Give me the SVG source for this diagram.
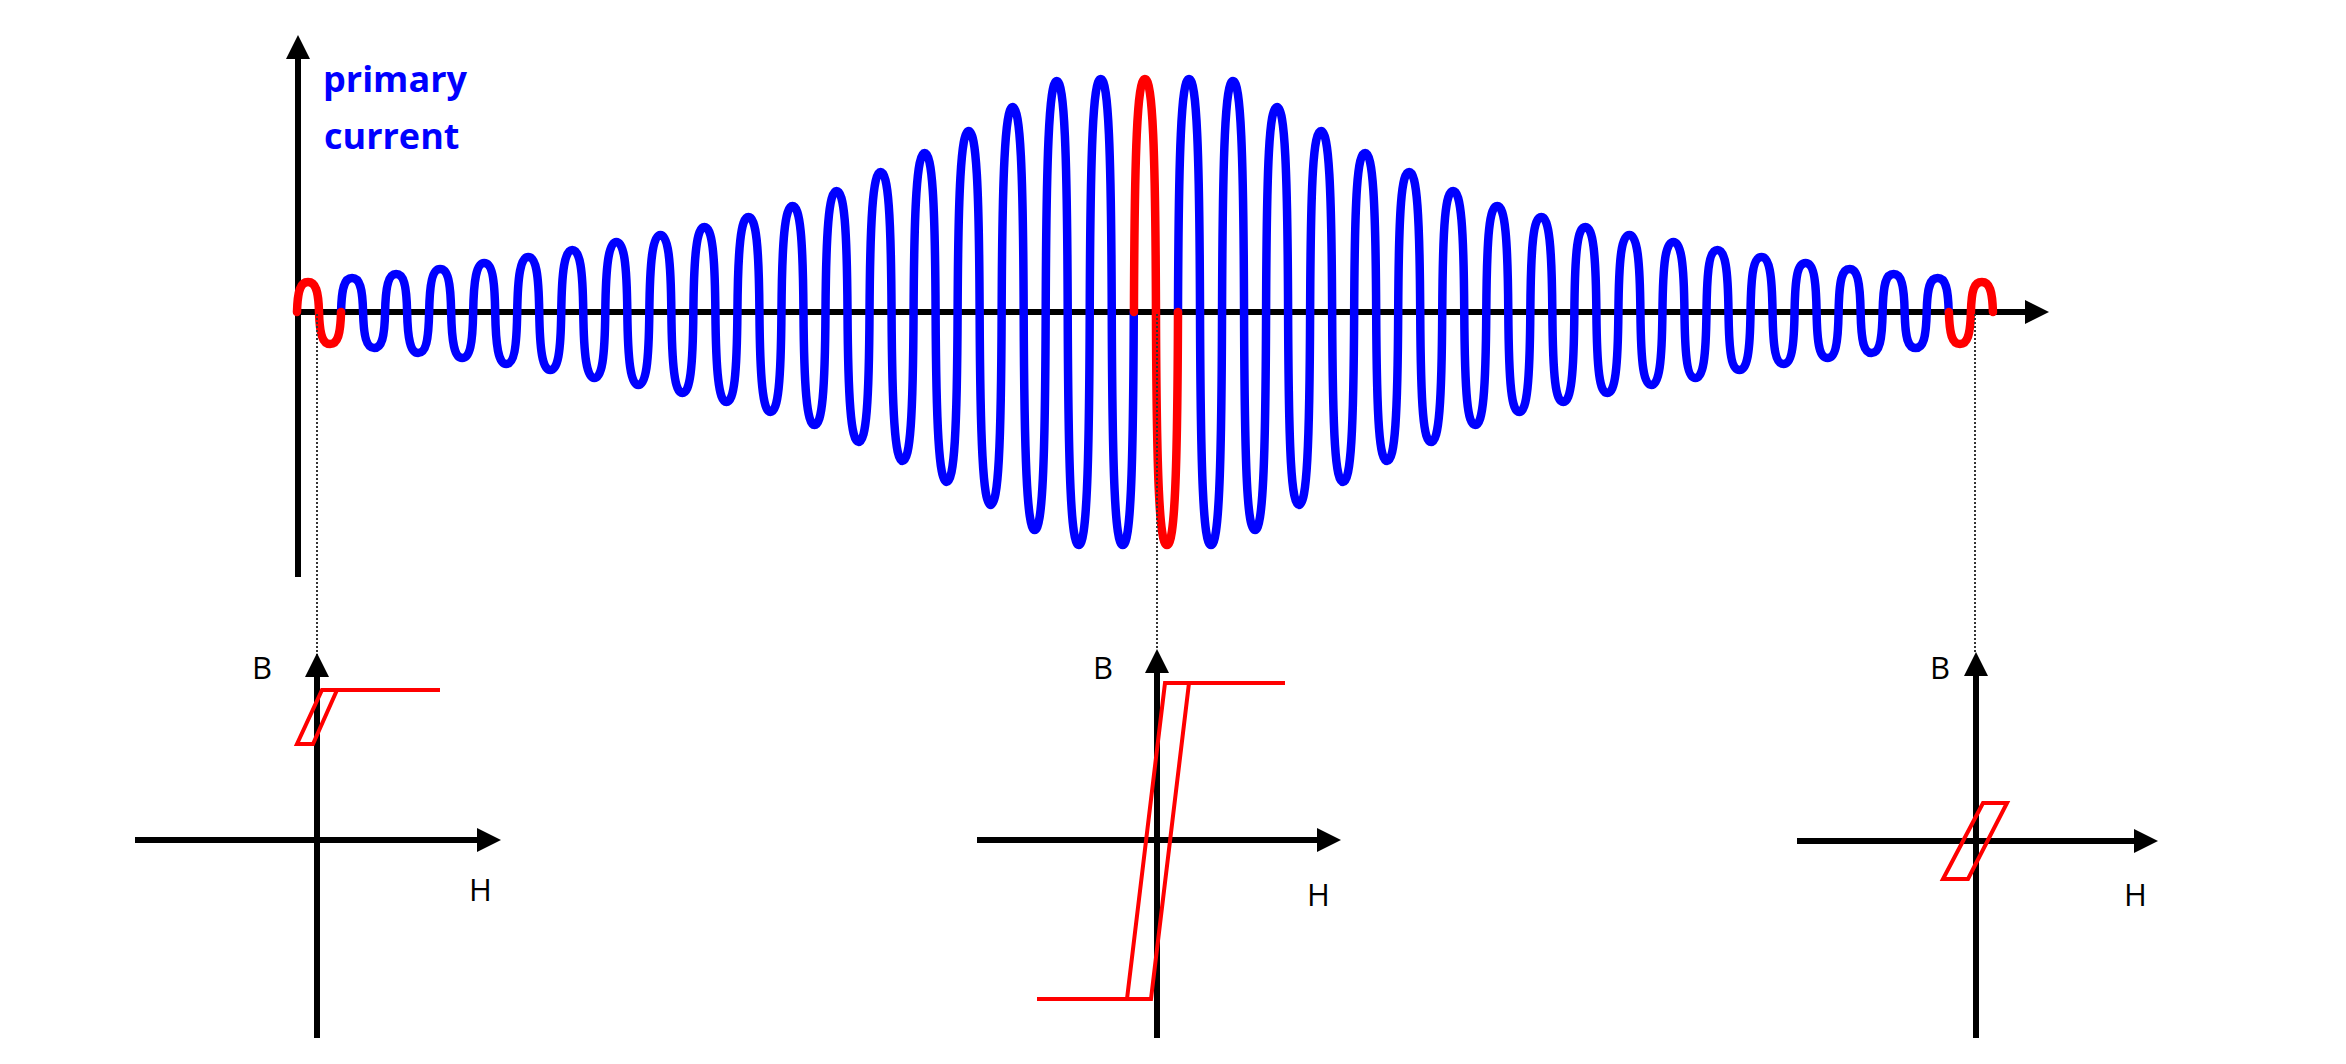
<svg xmlns="http://www.w3.org/2000/svg" width="2346" height="1064" viewBox="0 0 2346 1064">
<defs>
<style>
.axis{stroke:#000;stroke-width:6;fill:none}
.wave{fill:none;stroke-width:8.5;stroke-linecap:round;stroke-linejoin:round}
.blue{stroke:#0000FF}
.red{stroke:#FF0000}
.loop{fill:none;stroke:#FF0000;stroke-width:4;stroke-linejoin:miter}
.dot{stroke:#333;stroke-width:2;stroke-dasharray:2 2;fill:none}
.lbl{font-family:"Open Sans","Liberation Sans",sans-serif;font-size:31px;fill:#000}
.ttl{font-family:"Open Sans","Liberation Sans",sans-serif;font-size:36px;font-weight:bold;fill:#0000FF}
</style>
<marker id="arr" markerUnits="userSpaceOnUse" markerWidth="24" markerHeight="24" viewBox="0 0 24 24" refX="0" refY="12" orient="auto">
<path d="M0,0 L24,12 L0,24 Z" fill="#000"/>
</marker>
</defs>
<rect x="0" y="0" width="2346" height="1064" fill="#fff"/>

<g id="current-plot">
<line class="axis" x1="298" y1="577" x2="298" y2="59" marker-end="url(#arr)"/>
<line class="axis" x1="296" y1="312" x2="2025" y2="312" marker-end="url(#arr)"/>
<text class="ttl" x="323" y="92">primary</text>
<text class="ttl" x="324" y="149">current</text>
<path class="wave blue" d="M341.05,312 c0.55,-23.8 3.3,-34 11.01,-34 s10.46,10.2 11.01,34
s3.3,36 11.01,36 s10.46,-10.8 11.01,-36
s3.3,-38 11.01,-38 s10.46,11.4 11.01,38
s3.3,41 11.01,41 s10.46,-12.3 11.01,-41
s3.3,-43 11.01,-43 s10.46,12.9 11.01,43
s3.3,46 11.01,46 s10.46,-13.8 11.01,-46
s3.3,-49 11.01,-49 s10.46,14.7 11.01,49
s3.3,52 11.01,52 s10.46,-15.6 11.01,-52
s3.3,-55 11.01,-55 s10.46,16.5 11.01,55
s3.3,58 11.01,58 s10.46,-17.4 11.01,-58
s3.3,-62 11.01,-62 s10.46,18.6 11.01,62
s3.3,66 11.01,66 s10.46,-19.8 11.01,-66
s3.3,-70 11.01,-70 s10.46,21 11.01,70
s3.3,73 11.01,73 s10.46,-21.9 11.01,-73
s3.3,-77 11.01,-77 s10.46,23.1 11.01,77
s3.3,81 11.01,81 s10.46,-24.3 11.01,-81
s3.3,-85 11.01,-85 s10.46,25.5 11.01,85
s3.3,90 11.01,90 s10.46,-27 11.01,-90
s3.3,-95 11.01,-95 s10.46,28.5 11.01,95
s3.3,100 11.01,100 s10.46,-30 11.01,-100
s3.3,-106 11.01,-106 s10.46,31.8 11.01,106
s3.3,113 11.01,113 s10.46,-33.9 11.01,-113
s3.3,-121 11.01,-121 s10.46,36.3 11.01,121
s3.3,130 11.01,130 s10.46,-39 11.01,-130
s3.3,-140 11.01,-140 s10.46,42 11.01,140
s3.3,149 11.01,149 s10.46,-44.7 11.01,-149
s3.3,-159 11.01,-159 s10.46,47.7 11.01,159
s3.3,170 11.01,170 s10.46,-51 11.01,-170
s3.3,-181 11.01,-181 s10.46,54.3 11.01,181
s3.3,193 11.01,193 s10.46,-57.9 11.01,-193
s3.3,-205 11.01,-205 s10.46,61.5 11.01,205
s3.3,218 11.01,218 s10.46,-65.4 11.01,-218
s3.3,-231 11.01,-231 s10.46,69.3 11.01,231
s3.3,233 11.01,233 s10.46,-69.9 11.01,-233
s3.3,-233 11.01,-233 s10.46,69.9 11.01,233
s3.3,233 11.01,233 s10.46,-69.9 11.01,-233"/>
<path class="wave blue" d="M1178,312 c0.55,-163.1 3.3,-233 11.01,-233 s10.46,69.9 11.01,233
s3.3,233 11.01,233 s10.46,-69.9 11.01,-233
s3.3,-231 11.01,-231 s10.46,69.3 11.01,231
s3.3,218 11.01,218 s10.46,-65.4 11.01,-218
s3.3,-205 11.01,-205 s10.46,61.5 11.01,205
s3.3,193 11.01,193 s10.46,-57.9 11.01,-193
s3.3,-181 11.01,-181 s10.46,54.3 11.01,181
s3.3,170 11.01,170 s10.46,-51 11.01,-170
s3.3,-159 11.01,-159 s10.46,47.7 11.01,159
s3.3,149 11.01,149 s10.46,-44.7 11.01,-149
s3.3,-140 11.01,-140 s10.46,42 11.01,140
s3.3,130 11.01,130 s10.46,-39 11.01,-130
s3.3,-121 11.01,-121 s10.46,36.3 11.01,121
s3.3,113 11.01,113 s10.46,-33.9 11.01,-113
s3.3,-106 11.01,-106 s10.46,31.8 11.01,106
s3.3,100 11.01,100 s10.46,-30 11.01,-100
s3.3,-95 11.01,-95 s10.46,28.5 11.01,95
s3.3,90 11.01,90 s10.46,-27 11.01,-90
s3.3,-85 11.01,-85 s10.46,25.5 11.01,85
s3.3,81 11.01,81 s10.46,-24.3 11.01,-81
s3.3,-77 11.01,-77 s10.46,23.1 11.01,77
s3.3,73 11.01,73 s10.46,-21.9 11.01,-73
s3.3,-70 11.01,-70 s10.46,21 11.01,70
s3.3,66 11.01,66 s10.46,-19.8 11.01,-66
s3.3,-62 11.01,-62 s10.46,18.6 11.01,62
s3.3,58 11.01,58 s10.46,-17.4 11.01,-58
s3.3,-55 11.01,-55 s10.46,16.5 11.01,55
s3.3,52 11.01,52 s10.46,-15.6 11.01,-52
s3.3,-49 11.01,-49 s10.46,14.7 11.01,49
s3.3,46 11.01,46 s10.46,-13.8 11.01,-46
s3.3,-43 11.01,-43 s10.46,12.9 11.01,43
s3.3,41 11.01,41 s10.46,-12.3 11.01,-41
s3.3,-38 11.01,-38 s10.46,11.4 11.01,38
s3.3,36 11.01,36 s10.46,-10.8 11.01,-36
s3.3,-34 11.01,-34 s10.46,10.2 11.01,34"/>
<path class="wave red" d="M297,312 c0.55,-21 3.3,-30 11.01,-30 s10.46,9 11.01,30 s3.3,32 11.01,32 s10.46,-9.6 11.01,-32"/>
<path class="wave red" d="M1133.95,312 c0.55,-163.1 3.3,-233 11.01,-233 s10.46,69.9 11.01,233 s3.3,233 11.01,233 s10.46,-69.9 11.01,-233"/>
<path class="wave red" d="M1948.9,312 c0.55,22.4 3.3,32 11.01,32 s10.46,-9.6 11.01,-32 s3.3,-30 11.01,-30 s10.46,9 11.01,30"/>
</g>

<g id="connectors">
<line class="dot" x1="317" y1="314" x2="317" y2="655"/>
<line class="dot" x1="1157" y1="314" x2="1157" y2="650"/>
<line class="dot" x1="1975" y1="314" x2="1975" y2="652"/>
</g>

<g id="bh-left">
<line class="axis" x1="317" y1="1038" x2="317" y2="677" marker-end="url(#arr)"/>
<line class="axis" x1="135" y1="840" x2="477" y2="840" marker-end="url(#arr)"/>
<polygon class="loop" points="297,744 313,744 337,690 322,690"/>
<line class="loop" x1="322" y1="690" x2="440" y2="690"/>
<text class="lbl" x="252" y="679">B</text>
<text class="lbl" x="469" y="901">H</text>
</g>

<g id="bh-center">
<line class="axis" x1="1157" y1="1038" x2="1157" y2="673" marker-end="url(#arr)"/>
<line class="axis" x1="977" y1="840" x2="1317" y2="840" marker-end="url(#arr)"/>
<polygon class="loop" points="1127,999 1151,999 1189,683 1165,683"/>
<line class="loop" x1="1037" y1="999" x2="1127" y2="999"/>
<line class="loop" x1="1189" y1="683" x2="1285" y2="683"/>
<text class="lbl" x="1093" y="679">B</text>
<text class="lbl" x="1307" y="906">H</text>
</g>

<g id="bh-right">
<line class="axis" x1="1976" y1="1038" x2="1976" y2="676" marker-end="url(#arr)"/>
<line class="axis" x1="1797" y1="841" x2="2134" y2="841" marker-end="url(#arr)"/>
<polygon class="loop" points="1943,879 1968,879 2007,803 1983,803"/>
<text class="lbl" x="1930" y="679">B</text>
<text class="lbl" x="2124" y="906">H</text>
</g>
</svg>
